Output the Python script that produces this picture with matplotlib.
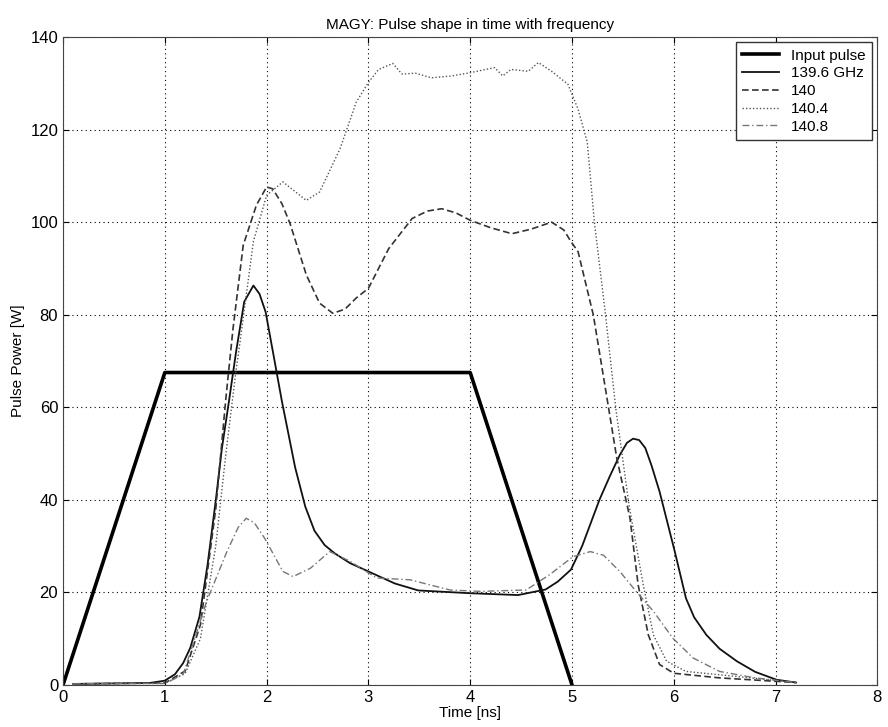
import numpy as np
import matplotlib
matplotlib.use("Agg")
import matplotlib.pyplot as plt

plt.rcParams["font.family"] = ["Liberation Sans", "DejaVu Sans"]

# input pulse
t_in = [0, 1, 4, 5]
p_in = [0, 67.5, 67.5, 0]

# 139.6 GHz
t_1396 = [0.1, 0.5, 0.85, 1.0, 1.1, 1.18, 1.25, 1.34, 1.42, 1.5, 1.56, 1.63, 1.7, 1.78, 1.87,
          1.93, 1.99, 2.07, 2.15, 2.28, 2.38, 2.47, 2.57, 2.67, 2.82, 2.98, 3.26, 3.49, 4.0,
          4.47, 4.74, 4.86, 4.99, 5.1, 5.27, 5.37, 5.47, 5.54, 5.6, 5.66, 5.72, 5.78, 5.86,
          5.95, 6.01, 6.12, 6.2, 6.32, 6.45, 6.62, 6.8, 7.01, 7.2]
p_1396 = [0.2, 0.3, 0.4, 0.9, 2.3, 4.7, 8, 14.7, 26, 39.8, 51, 61.3, 72, 82.8, 86.3,
          84.5, 80.6, 71, 61.3, 47, 38.5, 33.3, 30.2, 28.4, 26.3, 24.7, 21.9, 20.4, 19.8,
          19.4, 20.6, 22.3, 24.9, 30, 40, 45, 49.7, 52.3, 53.2, 52.9, 51.2, 47.5, 41.8,
          34, 28.8, 18.7, 14.6, 10.8, 7.8, 5.1, 2.8, 1.1, 0.5]

# 140 GHz
t_140 = [0.1, 0.5, 1.0, 1.2, 1.35, 1.5, 1.6, 1.67, 1.77, 1.9, 2.0, 2.06, 2.15, 2.23, 2.39,
         2.52, 2.65, 2.77, 2.88, 3.0, 3.2, 3.43, 3.58, 3.72, 3.86, 4.0, 4.2, 4.41, 4.6,
         4.8, 4.92, 4.99, 5.06, 5.21, 5.36, 5.44, 5.57, 5.65, 5.75, 5.86, 6.0, 6.45, 7.2]
p_140 = [0.2, 0.3, 0.4, 3, 13, 38, 62, 77, 95, 103.7, 107.6, 107.2, 104, 99.7, 88.6,
         82.5, 80.3, 81.2, 83.6, 85.7, 94.3, 100.8, 102.4, 102.9, 102, 100.4, 98.8, 97.5, 98.5,
         100, 98.3, 95.8, 93.6, 79.9, 59.8, 49, 36, 21.6, 10.8, 4.4, 2.5, 1.5, 0.5]

# 140.4 GHz
t_1404 = [0.1, 0.5, 1.0, 1.2, 1.35, 1.5, 1.6, 1.7, 1.74, 1.87, 2.0, 2.16, 2.39, 2.52, 2.72,
          2.88, 3.0, 3.1, 3.24, 3.33, 3.46, 3.62, 3.82, 4.0, 4.24, 4.32, 4.4, 4.57, 4.67,
          4.8, 4.96, 5.06, 5.15, 5.22, 5.33, 5.43, 5.56, 5.7, 5.8, 5.93, 6.12, 6.62, 7.2]
p_1404 = [0.2, 0.3, 0.3, 2.5, 10, 30, 50, 68, 74.3, 95.8, 105.8, 108.7, 104.7, 106.5, 115.8,
          125.9, 130.2, 133, 134.3, 132, 132.2, 131.2, 131.6, 132.3, 133.4, 131.6, 133, 132.6, 134.5,
          132.6, 129.8, 124.4, 117.3, 100, 79.9, 59.8, 38.9, 21.6, 10.8, 5.1, 2.9, 1.8, 0.5]

# 140.8 GHz
t_1408 = [0.1, 0.5, 1.0, 1.18, 1.41, 1.61, 1.72, 1.8, 1.88, 1.98, 2.16, 2.26, 2.43, 2.62, 2.82, 3.08,
          3.41, 3.8, 4.1, 4.55, 4.78, 5.01, 5.18, 5.31, 5.47, 5.63, 5.8, 5.99, 6.19, 6.45,
          6.8, 7.2]
p_1408 = [0.2, 0.3, 0.3, 2.2, 18, 28.8, 34, 36, 35, 31.7, 24.5, 23.4, 25.2, 28.8, 26.7, 23.1,
          22.7, 20.5, 20.2, 20.5, 23.8, 27.7, 28.8, 28, 24.5, 20.2, 15.9, 10.1, 5.8, 2.9,
          1.5, 0.5]

fig = plt.figure(figsize=(8.88, 7.27), dpi=100)
ax = fig.add_axes([0.071, 0.058, 0.917, 0.891])

ax.plot(t_in, p_in, color="black", lw=2.6, label="Input pulse")
ax.plot(t_1396, p_1396, color="#111111", lw=1.3, label="139.6 GHz")
ax.plot(t_140, p_140, color="#333333", lw=1.2, ls=(0, (4, 2)), label="140")
ax.plot(t_1404, p_1404, color="#555555", lw=1.0, ls=(0, (1, 1.5)), label="140.4")
ax.plot(t_1408, p_1408, color="#777777", lw=1.0, ls=(0, (5, 2, 1, 2)), label="140.8")

ax.set_xlim(0, 8)
ax.set_ylim(0, 140)
ax.set_xticks(range(0, 9))
ax.set_yticks(range(0, 141, 20))
ax.grid(True, color="black", ls=(0, (1, 3)), lw=0.8)
ax.tick_params(direction="in", labelsize=12, top=True, right=True, length=4)
for s in ax.spines.values():
    s.set_color("#444444")

ax.set_title("MAGY: Pulse shape in time with frequency", fontsize=11)
ax.set_xlabel("Time [ns]", fontsize=11, labelpad=1)
ax.set_ylabel("Pulse Power [W]", fontsize=11)

leg = ax.legend(loc="upper right", fontsize=11, fancybox=False, framealpha=1,
                edgecolor="#333333", handlelength=2.4, borderpad=0.4, labelspacing=0.25,
                borderaxespad=0.35)

fig.savefig("out.png", dpi=100)
